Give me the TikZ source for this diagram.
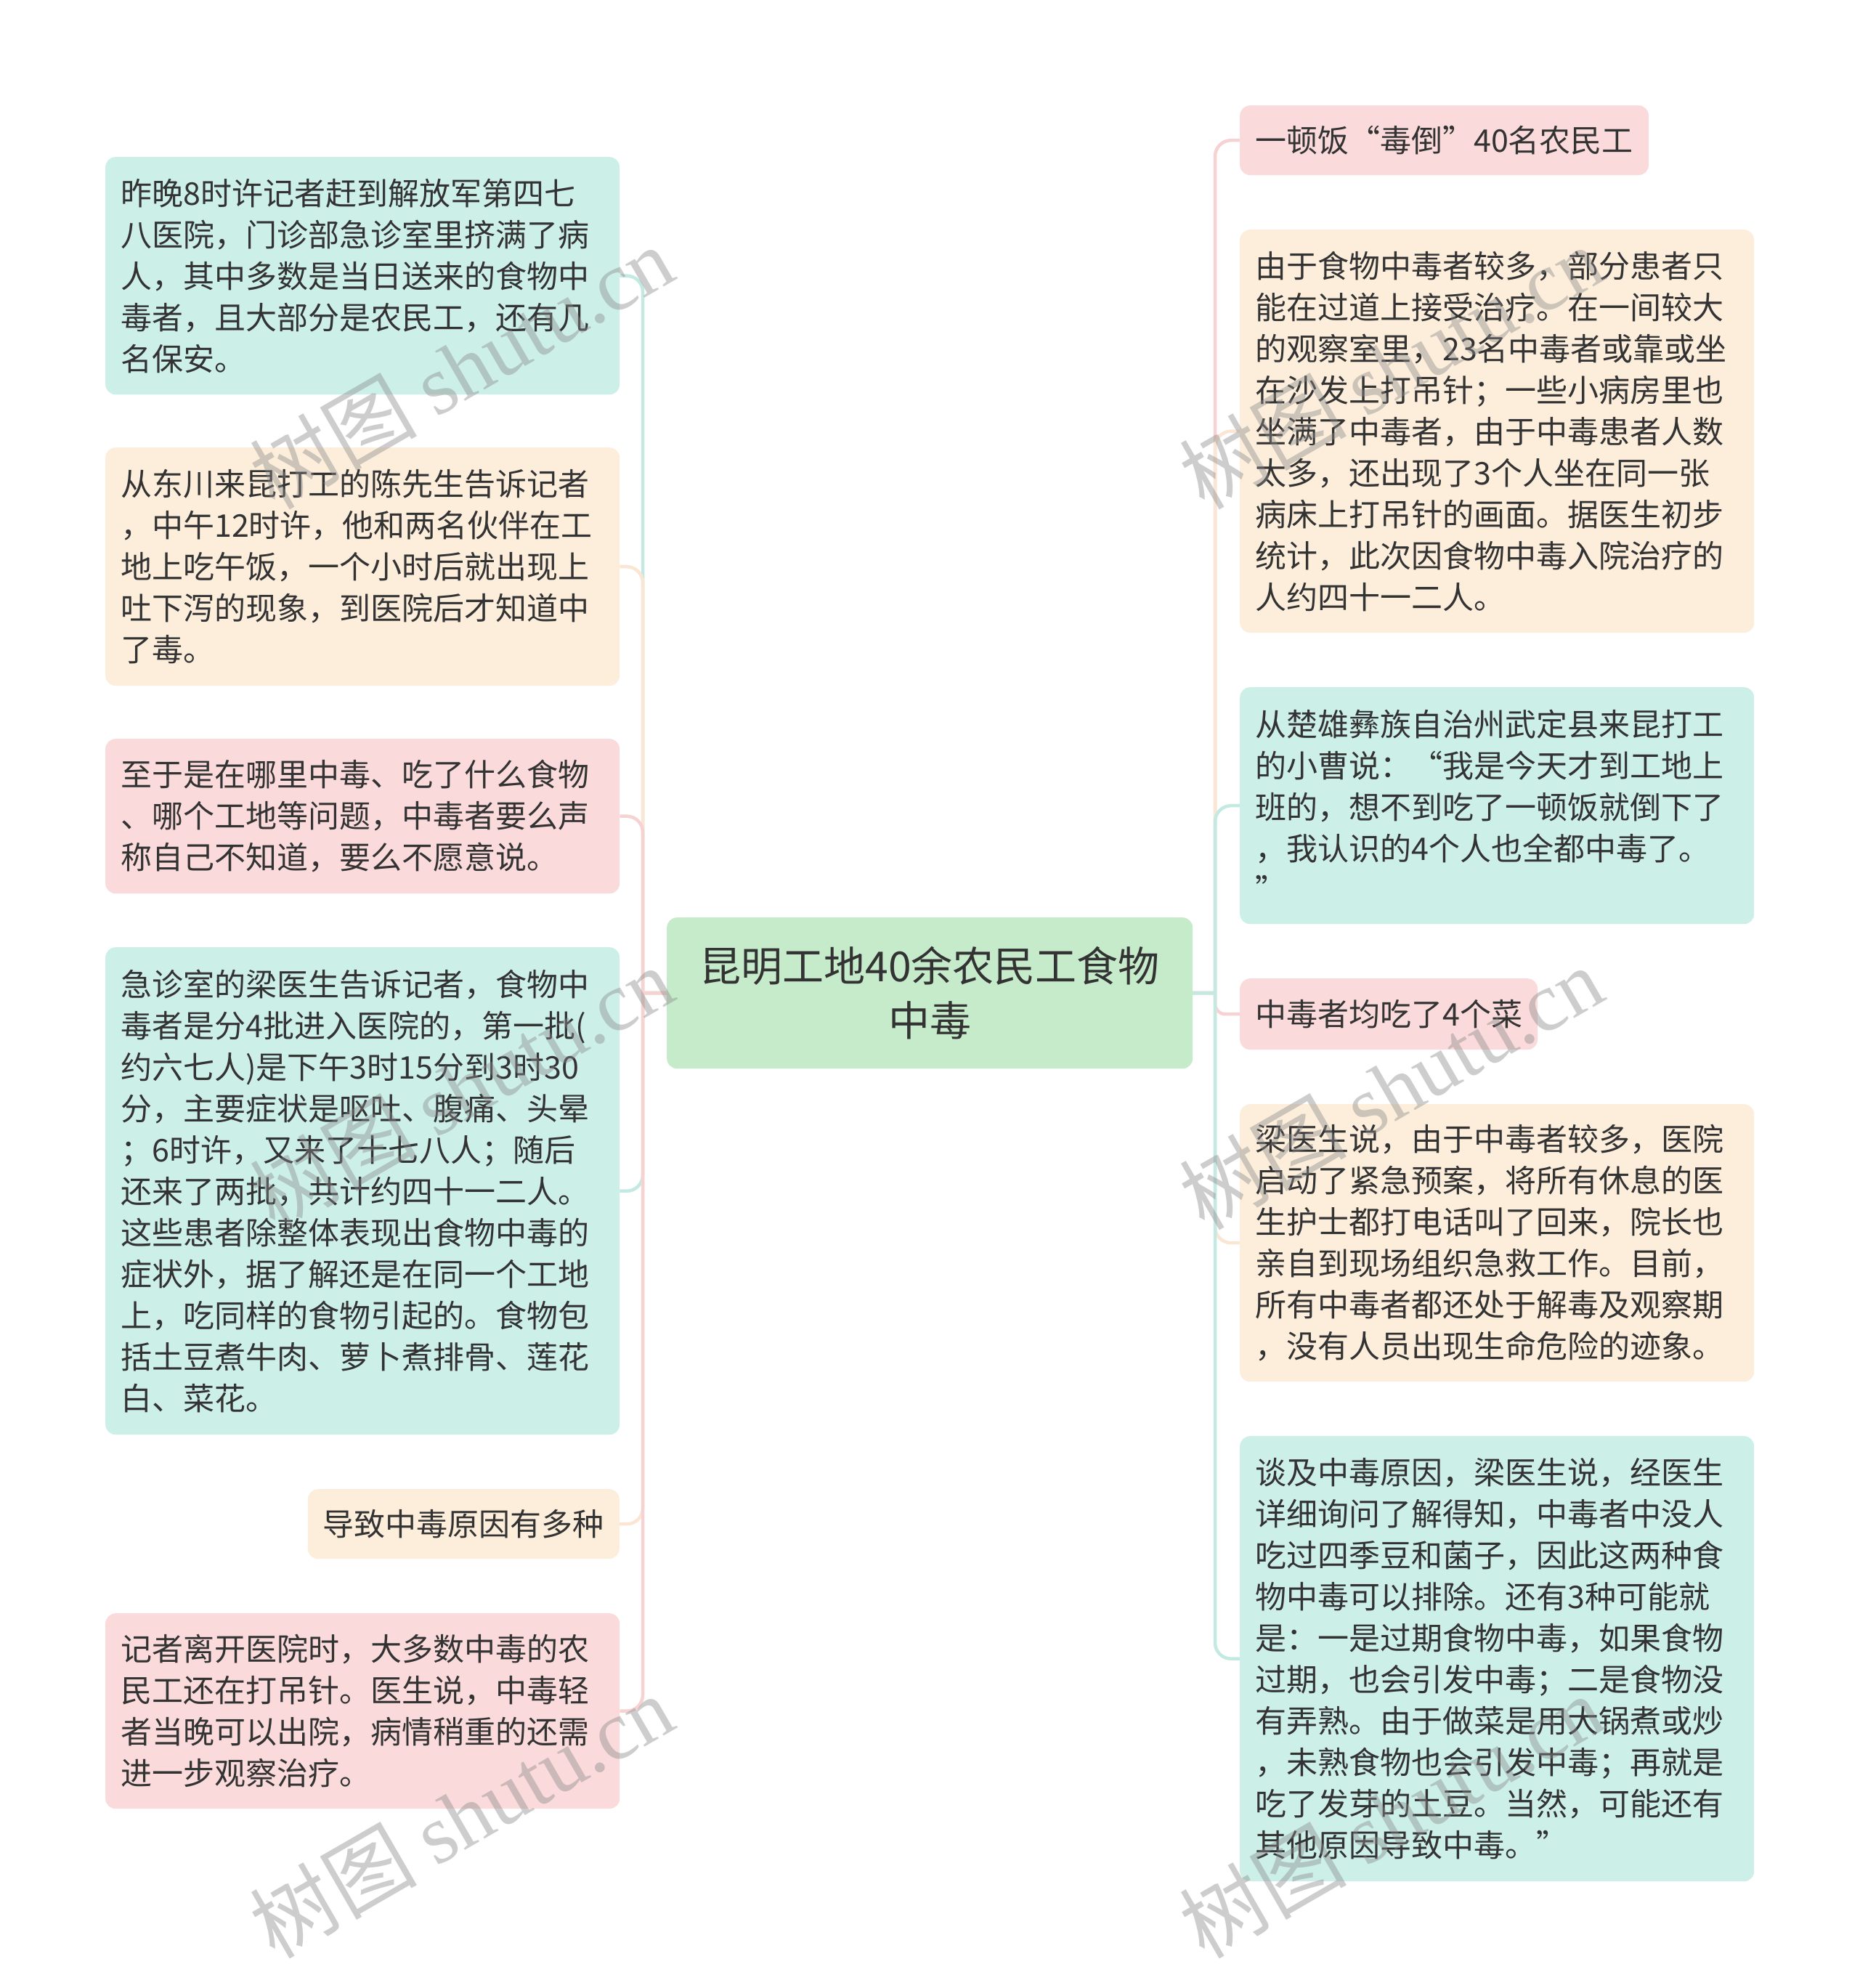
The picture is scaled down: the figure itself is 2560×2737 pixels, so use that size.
\documentclass[tikz,border=0pt]{standalone}
\usepackage{fontspec}
\setmainfont{Noto Sans CJK SC}
\newfontfamily\wmlatin{Liberation Serif}
\usetikzlibrary{backgrounds}
\definecolor{tc}{HTML}{333333}
\definecolor{tealF}{HTML}{CCEFE8}
\definecolor{tealL}{HTML}{C2EAE3}
\definecolor{peachF}{HTML}{FDEEDC}
\definecolor{peachL}{HTML}{FAE6D3}
\definecolor{pinkF}{HTML}{FADADA}
\definecolor{pinkL}{HTML}{F7D2D2}
\definecolor{greenF}{HTML}{C6EBCB}
\definecolor{wmc}{HTML}{8A8A8A}
\begin{document}
\begin{tikzpicture}[x=1pt,y=-1pt,
  box/.style={rounded corners=14pt, inner xsep=21pt, inner ysep=10pt, text=tc,
    font=\fontsize{43}{57}\selectfont, anchor=north west},
  wide/.style={box, text width=666pt, align=left},
  ln/.style={line width=4.5pt},
  wm/.style={text=wmc, opacity=0.42, rotate=30, font=\fontsize{115}{115}\selectfont}]
\useasboundingbox (0,0) rectangle (2560,2737);

% centre
\node[rounded corners=14pt, fill=greenF, text=tc, align=center,
  minimum width=724pt, minimum height=208pt, anchor=north west,
  font=\fontsize{57}{75}\selectfont] (c) at (918,1263) {昆明工地40余农民工食物\\中毒};
\coordinate (lt) at (885,1367);
\coordinate (rt) at (1673,1367);

% left column
\node[wide, fill=tealF, minimum height=327pt] (L1) at (145,216)
 {昨晚8时许记者赶到解放军第四七\\八医院，门诊部急诊室里挤满了病\\人，其中多数是当日送来的食物中\\毒者，且大部分是农民工，还有几\\名保安。};
\node[wide, fill=peachF, minimum height=328pt] (L2) at (145,616)
 {从东川来昆打工的陈先生告诉记者\\，中午12时许，他和两名伙伴在工\\地上吃午饭，一个小时后就出现上\\吐下泻的现象，到医院后才知道中\\了毒。};
\node[wide, fill=pinkF, minimum height=213pt] (L3) at (145,1017)
 {至于是在哪里中毒、吃了什么食物\\、哪个工地等问题，中毒者要么声\\称自己不知道，要么不愿意说。};
\node[wide, fill=tealF, minimum height=671pt] (L4) at (145,1304)
 {急诊室的梁医生告诉记者，食物中\\毒者是分4批进入医院的，第一批(\\约六七人)是下午3时15分到3时30\\分，主要症状是呕吐、腹痛、头晕\\；6时许，又来了十七八人；随后\\还来了两批，共计约四十一二人。\\这些患者除整体表现出食物中毒的\\症状外，据了解还是在同一个工地\\上，吃同样的食物引起的。食物包\\括土豆煮牛肉、萝卜煮排骨、莲花\\白、菜花。};
\node[box, fill=peachF, minimum height=96pt, anchor=north east] (L5) at (853,2050)
 {导致中毒原因有多种};
\node[wide, fill=pinkF, minimum height=269pt] (L6) at (145,2221)
 {记者离开医院时，大多数中毒的农\\民工还在打吊针。医生说，中毒轻\\者当晚可以出院，病情稍重的还需\\进一步观察治疗。};

% right column
\node[box, fill=pinkF, minimum height=96pt] (R1) at (1707,145)
 {一顿饭“毒倒”40名农民工};
\node[wide, fill=peachF, minimum height=555pt] (R2) at (1707,316)
 {由于食物中毒者较多，部分患者只\\能在过道上接受治疗。在一间较大\\的观察室里，23名中毒者或靠或坐\\在沙发上打吊针；一些小病房里也\\坐满了中毒者，由于中毒患者人数\\太多，还出现了3个人坐在同一张\\病床上打吊针的画面。据医生初步\\统计，此次因食物中毒入院治疗的\\人约四十一二人。};
\node[wide, fill=tealF, minimum height=326pt] (R3) at (1707,946)
 {从楚雄彝族自治州武定县来昆打工\\的小曹说：“我是今天才到工地上\\班的，想不到吃了一顿饭就倒下了\\，我认识的4个人也全都中毒了。\\”};
\node[box, fill=pinkF, minimum height=98pt] (R4) at (1707,1347)
 {中毒者均吃了4个菜};
\node[wide, fill=peachF, minimum height=382pt] (R5) at (1707,1520)
 {梁医生说，由于中毒者较多，医院\\启动了紧急预案，将所有休息的医\\生护士都打电话叫了回来，院长也\\亲自到现场组织急救工作。目前，\\所有中毒者都还处于解毒及观察期\\，没有人员出现生命危险的迹象。};
\node[wide, fill=tealF, minimum height=613pt] (R6) at (1707,1977)
 {谈及中毒原因，梁医生说，经医生\\详细询问了解得知，中毒者中没人\\吃过四季豆和菌子，因此这两种食\\物中毒可以排除。还有3种可能就\\是：一是过期食物中毒，如果食物\\过期，也会引发中毒；二是食物没\\有弄熟。由于做菜是用大锅煮或炒\\，未熟食物也会引发中毒；再就是\\吃了发芽的土豆。当然，可能还有\\其他原因导致中毒。”};

% connectors
\begin{scope}[on background layer]
\fill[white] (0,0) rectangle (2560,2737);
\draw[ln, tealL] (c.west) -- (lt);  \draw[ln, tealL, rounded corners=22pt] (lt) |- (L1.east);
\draw[ln, peachL] (c.west) -- (lt); \draw[ln, peachL, rounded corners=22pt] (lt) |- (L2.east);
\draw[ln, pinkL] (c.west) -- (lt);  \draw[ln, pinkL, rounded corners=22pt] (lt) |- (L3.east);
\draw[ln, tealL] (c.west) -- (lt);  \draw[ln, tealL, rounded corners=22pt] (lt) |- (L4.east);
\draw[ln, peachL] (c.west) -- (lt); \draw[ln, peachL, rounded corners=22pt] (lt) |- (L5.east);
\draw[ln, pinkL] (c.west) -- (lt);  \draw[ln, pinkL, rounded corners=22pt] (lt) |- (L6.east);
\draw[ln, pinkL] (c.east) -- (rt);  \draw[ln, pinkL, rounded corners=22pt] (rt) |- (R1.west);
\draw[ln, peachL] (c.east) -- (rt); \draw[ln, peachL, rounded corners=22pt] (rt) |- (R2.west);
\draw[ln, tealL] (c.east) -- (rt);  \draw[ln, tealL, rounded corners=22pt] (rt) |- (R3.west);
\draw[ln, pinkL] (c.east) -- (rt);  \draw[ln, pinkL, rounded corners=14pt] (rt) |- (R4.west);
\draw[ln, peachL] (c.east) -- (rt); \draw[ln, peachL, rounded corners=22pt] (rt) |- (R5.west);
\draw[ln, tealL] (c.east) -- (rt);  \draw[ln, tealL, rounded corners=22pt] (rt) |- (R6.west);
\end{scope}

% watermarks
\foreach \wx/\wy [count=\i] in {635/505, 635/1497, 635/2500, 1915/505, 1915/1497, 1915/2500}
  \node[wm] (wm\i) at (\wx,\wy) {树图 {\wmlatin shutu.cn}};
\end{tikzpicture}
\end{document}
